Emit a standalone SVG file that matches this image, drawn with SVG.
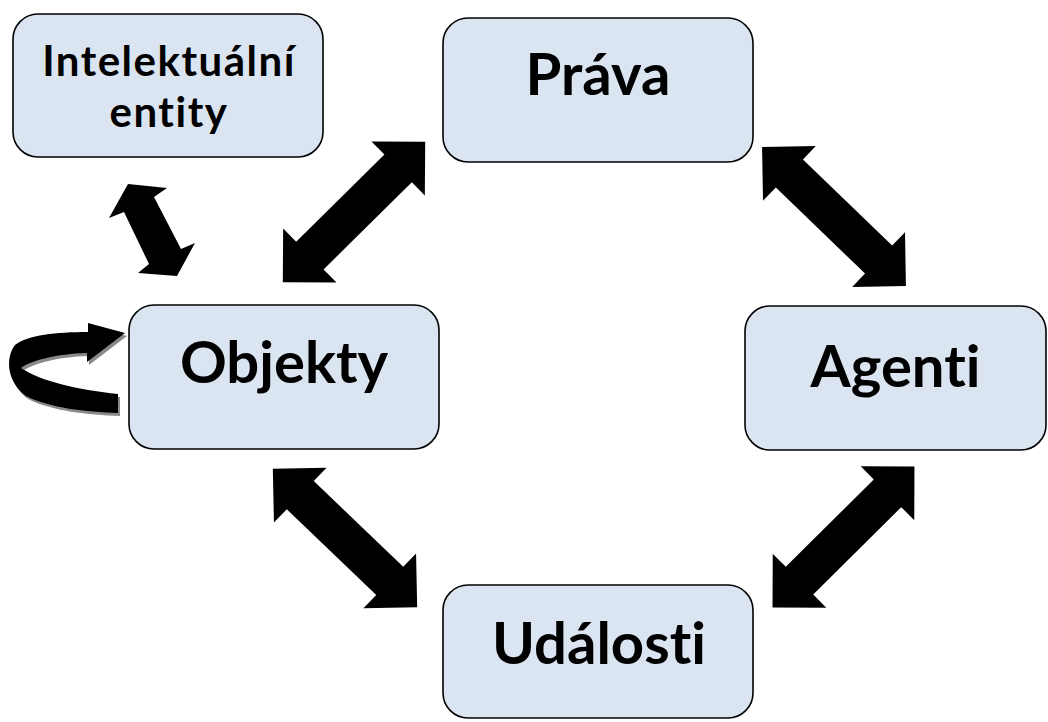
<svg xmlns="http://www.w3.org/2000/svg" xmlns:xlink="http://www.w3.org/1999/xlink" width="1048" height="722" viewBox="0 0 1048 722">
  <style>
    .box { fill: #dbe5f1; stroke: #000; stroke-width: 1.6; }
    .lbl { font-family: Lato, "Open Sans", "Liberation Sans", sans-serif; font-weight: bold; fill: #000; text-anchor: middle; font-variant-ligatures: none; font-feature-settings: "liga" 0, "clig" 0; }
    .big { font-size: 58px; }
    .small { font-size: 42px; letter-spacing: 1.5px; }
    .conn { fill: #000; }
  </style>
  <defs>
    <!-- straight double-headed block arrow, 200 long, centred on the origin -->
    <path id="dblArrow" d="M100,0 L62,-38 L62,-19.5 L-62,-19.5 L-62,-38 L-100,0 L-62,38 L-62,19.5 L62,19.5 L62,38 Z"/>
    <!-- self-loop arrow on the left of Objekty -->
    <path id="loopArrow" d="M118,394 C80,390 42,382 21,368 C32,360 56,354 87,353 L87,362 L125,333 L88,323 L88,332 C56,332 28,335 15,345 C5,358 7,382 26,396 C50,408 86,412 118,413 Z"/>
  </defs>

  <g id="connectors">
    <use xlink:href="#dblArrow" class="conn" transform="translate(354,212) rotate(-44.6)"/>
    <use xlink:href="#dblArrow" class="conn" transform="translate(834,216.5) rotate(44)"/>
    <use xlink:href="#dblArrow" class="conn" transform="translate(345,538) rotate(43.8)"/>
    <use xlink:href="#dblArrow" class="conn" transform="translate(843.5,537) rotate(-44.8)"/>
    <polygon class="conn" points="128,184 167,188 154,197 181,249 195,243 177,276 138,273 149,264 124,212 109,218"/>
    <g id="selfLoop">
      <use xlink:href="#loopArrow" fill="#8a8a8a" transform="translate(2,3)"/>
      <use xlink:href="#loopArrow" fill="#000"/>
    </g>
  </g>

  <g id="node-intelektualni">
    <rect class="box" x="13" y="14" width="310" height="143" rx="25"/>
    <text class="lbl small" x="169" y="76">Intelektuální</text>
    <text class="lbl small" x="169" y="127">entity</text>
  </g>

  <g id="node-prava">
    <rect class="box" x="443" y="18" width="310" height="144" rx="25"/>
    <text class="lbl big" x="598" y="95">Práva</text>
  </g>

  <g id="node-objekty">
    <rect class="box" x="129" y="305" width="310" height="144" rx="25"/>
    <text class="lbl big" x="284" y="383">Objekty</text>
  </g>

  <g id="node-agenti">
    <rect class="box" x="745" y="306" width="301" height="144" rx="25"/>
    <text class="lbl big" x="895.5" y="387">Agenti</text>
  </g>

  <g id="node-udalosti">
    <rect class="box" x="443" y="585" width="310" height="133" rx="25"/>
    <text class="lbl big" x="599" y="664">Události</text>
  </g>
</svg>
